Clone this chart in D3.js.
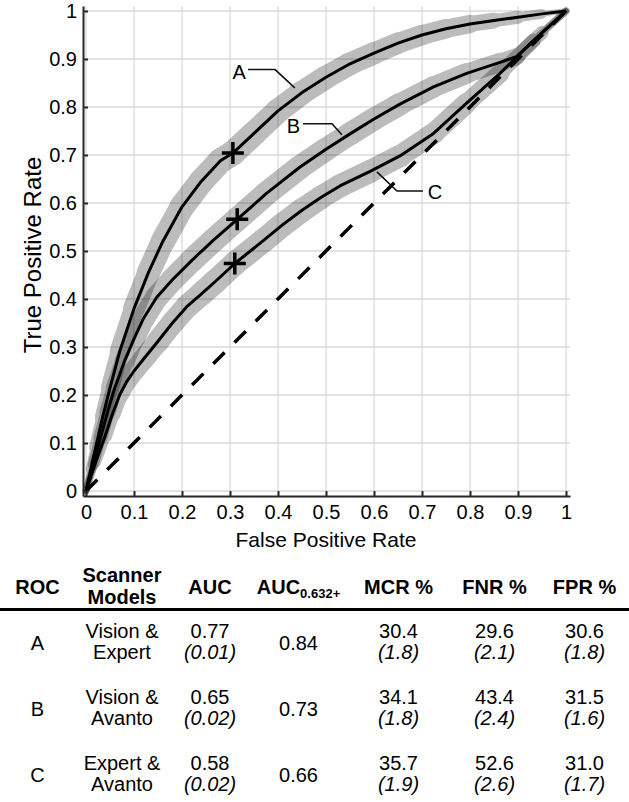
<!DOCTYPE html>
<html><head><meta charset="utf-8">
<script src="https://cdn.jsdelivr.net/npm/d3@7/dist/d3.min.js"></script>
<style>
body{margin:0;background:#fff}
svg{display:block}
text{font-family:"Liberation Sans",Arial,Helvetica,sans-serif;fill:#000}
</style></head>
<body><svg id="chart" width="629" height="802"></svg>
<script>
// ---------------- data ----------------
const xTicks = [0,0.1,0.2,0.3,0.4,0.5,0.6,0.7,0.8,0.9,1];
const yTicks = [0,0.1,0.2,0.3,0.4,0.5,0.6,0.7,0.8,0.9,1];
const tickLabels = ["0","0.1","0.2","0.3","0.4","0.5","0.6","0.7","0.8","0.9","1"];
const xLabel = "False Positive Rate";
const yLabel = "True Positive Rate";

// ROC curves: [FPR, TPR, confidence half-width]
const rocA = [[0,0,0.004],[0.01,0.045,0.009],[0.02,0.09,0.012],[0.035,0.155,0.015],[0.05,0.215,0.018],[0.07,0.29,0.02],
  [0.1,0.38,0.022],[0.13,0.455,0.024],[0.16,0.52,0.025],[0.2,0.592,0.026],[0.24,0.645,0.026],[0.28,0.688,0.026],
  [0.306,0.704,0.026],[0.35,0.745,0.026],[0.4,0.792,0.025],[0.45,0.83,0.025],[0.5,0.862,0.024],[0.55,0.89,0.024],
  [0.6,0.912,0.023],[0.65,0.933,0.022],[0.7,0.95,0.021],[0.75,0.963,0.02],[0.8,0.973,0.018],[0.85,0.98,0.015],
  [0.9,0.987,0.012],[0.95,0.994,0.008],[1,1,0.003]];
const rocB = [[0,0,0.004],[0.015,0.055,0.01],[0.03,0.11,0.013],[0.045,0.165,0.016],[0.06,0.215,0.018],[0.08,0.27,0.02],
  [0.1,0.317,0.022],[0.12,0.36,0.023],[0.147,0.403,0.024],[0.18,0.44,0.024],[0.22,0.48,0.025],[0.265,0.522,0.025],
  [0.315,0.566,0.025],[0.376,0.62,0.025],[0.446,0.675,0.025],[0.5,0.712,0.024],[0.55,0.744,0.024],[0.6,0.775,0.024],
  [0.654,0.806,0.023],[0.724,0.842,0.022],[0.793,0.87,0.021],[0.8625,0.893,0.019],[0.897,0.905,0.017],
  [0.95,0.955,0.011],[1,1,0.003]];
const rocC = [[0,0,0.004],[0.02,0.06,0.01],[0.04,0.115,0.013],[0.055,0.16,0.016],[0.07,0.2,0.018],[0.085,0.228,0.02],
  [0.1,0.25,0.021],[0.12,0.275,0.022],[0.15,0.312,0.023],[0.18,0.35,0.024],[0.21,0.384,0.024],[0.24,0.41,0.025],
  [0.27,0.437,0.025],[0.31,0.474,0.025],[0.37,0.522,0.025],[0.41,0.555,0.025],[0.45,0.585,0.025],[0.49,0.612,0.024],
  [0.53,0.636,0.024],[0.592,0.666,0.024],[0.654,0.698,0.023],[0.724,0.745,0.022],[0.793,0.808,0.021],[0.8625,0.87,0.018],
  [0.932,0.938,0.012],[1,1,0.003]];

// table
const rocNames = ["A","B","C"];
const scannerModels = [["Vision &","Expert"],["Vision &","Avanto"],["Expert &","Avanto"]];
const auc = [0.77,0.65,0.58];
const aucSE = [0.01,0.02,0.02];
const auc632 = [0.84,0.73,0.66];
const mcr = [30.4,34.1,35.7];
const mcrSE = [1.8,1.8,1.9];
const fnr = [29.6,43.4,52.6];
const fnrSE = [2.1,2.4,2.6];
const fpr = [30.6,31.5,31.0];
const fprSE = [1.8,1.6,1.7];

// curve label annotations (data coordinates): label pos and leader path
const curveLabels = [
  {name:"A", at:[0.319,0.858], leader:[[0.3375,0.878],[0.394,0.878],[0.435,0.84]]},
  {name:"B", at:[0.432,0.746], leader:[[0.452,0.765],[0.5125,0.765],[0.533,0.742]]},
  {name:"C", at:[0.727,0.608], leader:[[0.606,0.665],[0.648,0.625],[0.702,0.625]]}
];

// ---------------- layout ----------------
const svg = d3.select("#chart");
const FONT = '"Liberation Sans",Arial,Helvetica,sans-serif';
const xlim = [-0.00625, 1.00833], ylim = [-0.0104, 1.0104];
const x = d3.scaleLinear().domain(xlim).range([83,570]);
const y = d3.scaleLinear().domain(ylim).range([496,6]);

// grid
const grid = svg.append("g").attr("stroke","#dadada").attr("stroke-width",1.3);
grid.selectAll("line.v").data(xTicks).join("line")
  .attr("x1",d=>x(d)).attr("x2",d=>x(d)).attr("y1",y(ylim[0])).attr("y2",y(ylim[1]));
grid.selectAll("line.h").data(yTicks).join("line")
  .attr("y1",d=>y(d)).attr("y2",d=>y(d)).attr("x1",x(xlim[0])).attr("x2",x(xlim[1]));

// confidence bands
const curves = [rocA, rocB, rocC];
const bands = svg.append("g");
curves.forEach(c=>{
  const g = bands.append("g").attr("opacity",0.26);
  const segs = d3.pairs(c);
  g.selectAll("line").data(segs).join("line")
    .attr("x1",d=>x(d[0][0])).attr("y1",d=>y(d[0][1]))
    .attr("x2",d=>x(d[1][0])).attr("y2",d=>y(d[1][1]))
    .attr("stroke","#000").attr("stroke-linecap","round")
    .attr("stroke-width",d=>(x(d[0][2]+d[1][2])-x(0)));
});

// chance diagonal
svg.append("line").attr("x1",x(0)).attr("y1",y(0)).attr("x2",x(1)).attr("y2",y(1))
  .attr("stroke","#000").attr("stroke-width",3.5).attr("stroke-dasharray","16,14");

// curves
const line = d3.line().x(d=>x(d[0])).y(d=>y(d[1]));
svg.append("g").selectAll("path").data(curves).join("path")
  .attr("d",line).attr("fill","none").attr("stroke","#000").attr("stroke-width",3).attr("stroke-linejoin","round");

// operating points
const ops = rocNames.map((n,i)=>[fpr[i]/100, 1-fnr[i]/100]);
svg.append("g").selectAll("path").data(ops).join("path")
  .attr("transform",d=>`translate(${x(d[0])},${y(d[1])})`)
  .attr("d","M-11,0H11M0,-11V11").attr("stroke","#000").attr("stroke-width",3.5);

// axes
const xAxis = svg.append("g").attr("transform",`translate(0,${y(ylim[0])})`)
  .call(d3.axisBottom(x).tickValues(xTicks).tickFormat((d,i)=>tickLabels[i]).tickSizeInner(-5).tickSizeOuter(0).tickPadding(9));
const yAxis = svg.append("g").attr("transform",`translate(${x(xlim[0])},0)`)
  .call(d3.axisLeft(y).tickValues(yTicks).tickFormat((d,i)=>tickLabels[i]).tickSizeInner(-5).tickSizeOuter(0).tickPadding(6));
[xAxis,yAxis].forEach(a=>{
  a.attr("font-family",FONT).attr("font-size",20);
  a.selectAll("path,line").attr("stroke","#262626").attr("stroke-width",2);
  a.selectAll("text").attr("fill","#000");
});
svg.append("text").attr("x",326).attr("y",547).attr("text-anchor","middle").attr("font-size",21).text(xLabel);
svg.append("text").attr("transform","translate(41,255) rotate(-90)").attr("text-anchor","middle").attr("font-size",24).text(yLabel);

// curve labels
const lab = svg.append("g");
curveLabels.forEach(l=>{
  lab.append("text").attr("x",x(l.at[0])).attr("y",y(l.at[1])).attr("text-anchor","middle").attr("font-size",20).text(l.name);
  lab.append("path").attr("d",line(l.leader)).attr("fill","none").attr("stroke","#111").attr("stroke-width",1.6);
});

// ---------------- table ----------------
const colX = [37.5,122,210,298.5,398.5,494.5,584.5];
const t = svg.append("g").attr("font-size",20);
const hdr = t.append("g").attr("font-weight","bold").attr("text-anchor","middle");
hdr.append("text").attr("x",colX[0]).attr("y",594).text("ROC");
hdr.append("text").attr("x",colX[1]).attr("y",582).text("Scanner");
hdr.append("text").attr("x",colX[1]).attr("y",604).text("Models");
hdr.append("text").attr("x",colX[2]).attr("y",594).text("AUC");
const h4 = hdr.append("text").attr("x",colX[3]).attr("y",594);
h4.append("tspan").text("AUC");
h4.append("tspan").attr("font-size",13).attr("dy",4).text("0.632+");
hdr.append("text").attr("x",colX[4]).attr("y",594).text("MCR %");
hdr.append("text").attr("x",colX[5]).attr("y",594).text("FNR %");
hdr.append("text").attr("x",colX[6]).attr("y",594).text("FPR %");
t.append("line").attr("x1",0).attr("x2",629).attr("y1",609.5).attr("y2",609.5).attr("stroke","#000").attr("stroke-width",3);

const rowY = d3.scalePoint().domain(rocNames).range([638,770]);
const LH = 21;
const f2 = d3.format(".2f"), f1 = d3.format(".1f");
const body = t.append("g").attr("text-anchor","middle");
rocNames.forEach((n,i)=>{
  const b = rowY(n);
  body.append("text").attr("x",colX[0]).attr("y",b+12).text(n);
  body.append("text").attr("x",colX[1]).attr("y",b).text(scannerModels[i][0]);
  body.append("text").attr("x",colX[1]).attr("y",b+LH).text(scannerModels[i][1]);
  body.append("text").attr("x",colX[2]).attr("y",b).text(f2(auc[i]));
  body.append("text").attr("x",colX[2]).attr("y",b+LH).attr("font-style","italic").text(`(${f2(aucSE[i])})`);
  body.append("text").attr("x",colX[3]).attr("y",b+12).text(f2(auc632[i]));
  [[mcr,mcrSE],[fnr,fnrSE],[fpr,fprSE]].forEach(([v,se],k)=>{
    body.append("text").attr("x",colX[4+k]).attr("y",b).text(f1(v[i]));
    body.append("text").attr("x",colX[4+k]).attr("y",b+LH).attr("font-style","italic").text(`(${f1(se[i])})`);
  });
});
</script></body></html>
